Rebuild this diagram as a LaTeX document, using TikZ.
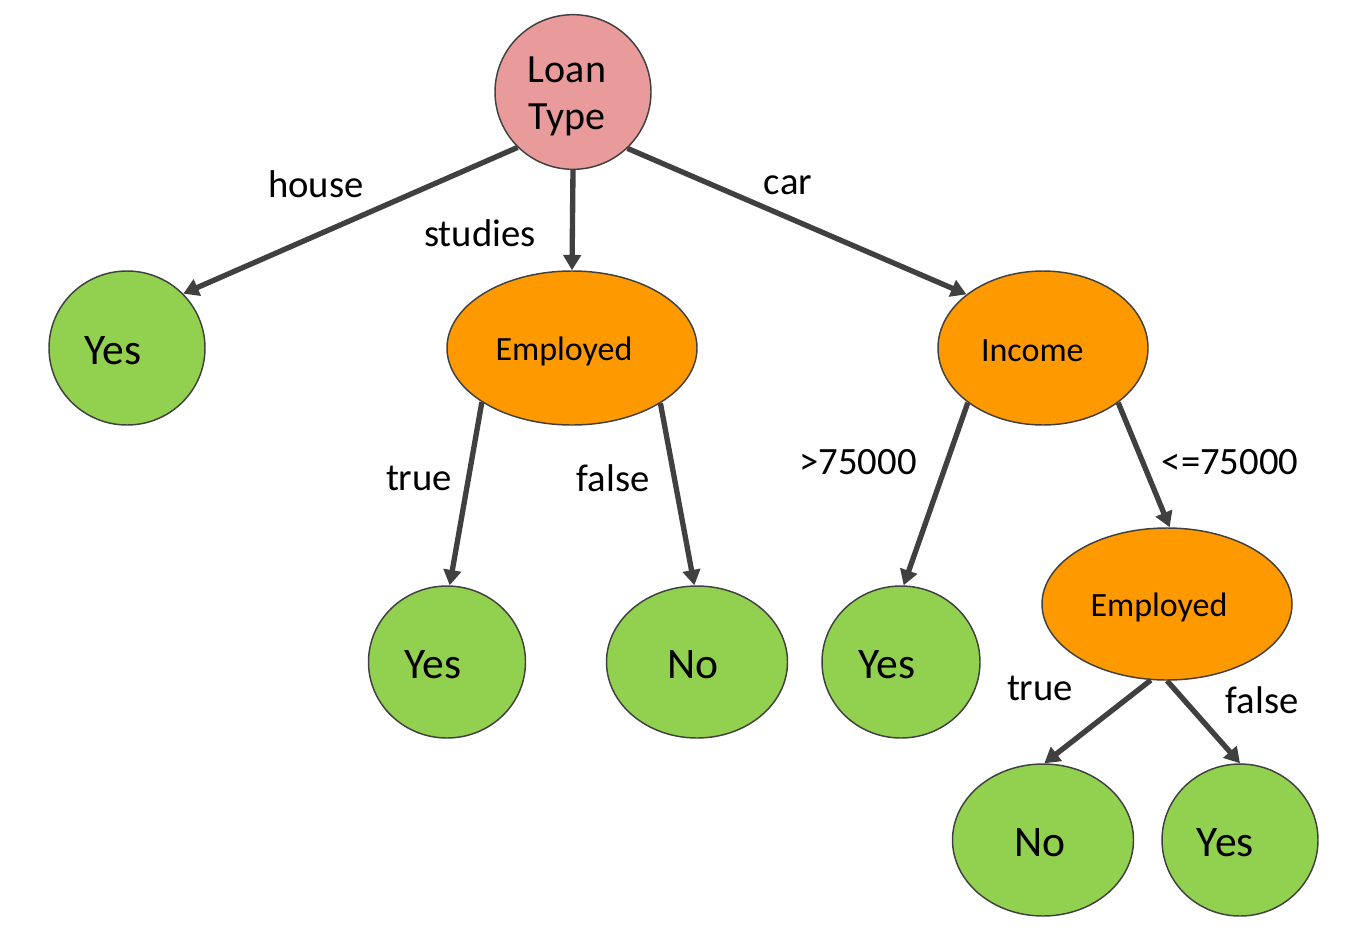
\documentclass[tikz,border=0pt]{standalone}
\usepackage{fontspec}
\setmainfont{Carlito}
\usetikzlibrary{shapes.geometric,arrows.meta}
\definecolor{rootpink}{HTML}{E99A9A}
\definecolor{innerorange}{HTML}{FF9900}
\definecolor{leafgreen}{HTML}{92D050}
\definecolor{edgegray}{HTML}{404040}
\tikzset{
  shp/.style={ellipse, draw=edgegray, line width=1.1pt, inner sep=0pt},
  rootnode/.style={shp, fill=rootpink, minimum width=117pt, minimum height=116pt},
  inner/.style={shp, fill=innerorange},
  innertxt/.style={inner sep=0pt, font=\fontsize{25.5}{30}\selectfont, yshift=-2.25pt},
  leaf/.style={shp, fill=leafgreen},
  leaftxt/.style={inner sep=0pt, font=\fontsize{32.7}{38}\selectfont, yshift=-2.25pt},
  lbl/.style={font=\fontsize{29}{34}\selectfont, inner sep=0pt},
  edge/.style={draw=edgegray, line width=4pt, -{Triangle[length=11.5pt,width=13pt]}}
}
\begin{document}
\begin{tikzpicture}[x=0.75pt,y=-0.75pt]
\useasboundingbox (0,0) rectangle (1367,932);
% nodes
\node[rootnode, label={[inner sep=0pt, align=center, font=\fontsize{30}{35}\selectfont, xshift=-4.5pt, yshift=-3.5pt]center:Loan\\Type}] (loan) at (573,92) {};
\node[leaf, minimum width=117pt, minimum height=115.5pt, label={[leaftxt, xshift=-10.5pt]center:Yes}] (yes1) at (127,348) {};
\node[inner, minimum width=187.5pt, minimum height=115.5pt, label={[innertxt, xshift=-6pt]center:Employed}] (emp1) at (572,348) {};
\node[inner, minimum width=157.5pt, minimum height=115.5pt, label={[innertxt, xshift=-8pt]center:Income}] (inc) at (1043,348) {};
\node[leaf, minimum width=117.75pt, minimum height=114pt, label={[leaftxt, xshift=-10.5pt]center:Yes}] (yes2) at (447,662) {};
\node[leaf, minimum width=135.75pt, minimum height=114pt, label={[leaftxt, xshift=-3pt]center:No}] (no1) at (697,662) {};
\node[leaf, minimum width=118.5pt, minimum height=114pt, label={[leaftxt, xshift=-10.5pt]center:Yes}] (yes3) at (901,662) {};
\node[inner, minimum width=187.5pt, minimum height=114pt, label={[innertxt, xshift=-6pt]center:Employed}] (emp2) at (1167,604) {};
\node[leaf, minimum width=135.75pt, minimum height=114pt, label={[leaftxt, xshift=-2.5pt]center:No}] (no2) at (1043,840) {};
\node[leaf, minimum width=117pt, minimum height=114pt, label={[leaftxt, xshift=-11pt]center:Yes}] (yes4) at (1240,840) {};
% edges
\draw[edge] (loan.225) -- (yes1.44);
\draw[edge] (loan.270) -- (emp1.90);
\draw[edge] (loan.314) -- (inc.145);
\draw[edge] (emp1.211.5) -- (yes2.88);
\draw[edge] (emp1.328.5) -- (no1.92);
\draw[edge] (inc.216.5) -- (yes3.88.5);
\draw[edge] (inc.324.2) -- (emp2.88);
\draw[edge] (emp2.258) -- (no2.89);
\draw[edge] (emp2.270) -- (yes4.90);
% edge labels
\node[lbl] (lhouse) at (316,184) {house};
\node[lbl] (lstudies) at (480,233) {studies};
\node[lbl] (lcar) at (788,185) {car};
\node[lbl] (ltrue1) at (419,478) {true};
\node[lbl] (lfalse1) at (613,478) {false};
\node[lbl] (lgt) at (858,462) {>75000};
\node[lbl] (lle) at (1230,462) {<=75000};
\node[lbl] (ltrue2) at (1040,688) {true};
\node[lbl] (lfalse2) at (1262,700) {false};
\end{tikzpicture}
\end{document}
